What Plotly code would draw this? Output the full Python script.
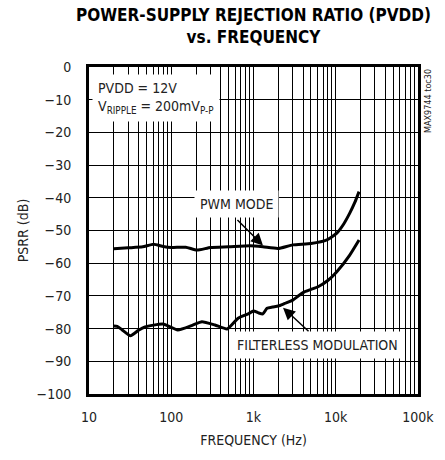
import plotly.graph_objects as go

# PWM MODE curve
pwm_f = [20, 30, 45, 61, 80, 100, 150, 205, 300, 500, 907, 1300, 1986, 3000, 5000, 7800, 10300, 12500, 14800, 17000, 19200]
pwm_db = [-55.6, -55.3, -55.0, -54.2, -54.9, -55.2, -55.1, -56.0, -55.2, -55.0, -54.7, -55.0, -55.5, -54.4, -54.0, -52.9, -50.8, -48.0, -44.7, -41.5, -38.1]

# FILTERLESS MODULATION curve
fl_f = [20, 22, 25, 32, 40, 48, 79, 120, 180, 236, 340, 478, 650, 860, 1000, 1150, 1300, 1460, 1700, 2000, 2400, 3000, 3600, 4200, 5000, 6100, 8000, 10300, 14800, 19200]
fl_db = [-79.2, -79.3, -80.3, -82.2, -80.5, -79.5, -78.6, -80.4, -79.0, -77.9, -78.9, -80.1, -76.8, -75.5, -74.6, -75.2, -75.5, -73.8, -73.4, -73.1, -72.3, -71.3, -69.8, -68.7, -68.0, -67.2, -65.3, -62.6, -57.5, -52.9]

x_major = [10, 100, 1000, 10000, 100000]
x_major_text = ["10", "100", "1k", "10k", "100k"]
y_ticks = [0, -10, -20, -30, -40, -50, -60, -70, -80, -90, -100]

FONT = "DejaVu Sans Condensed, Liberation Sans Narrow, Arial Narrow, Liberation Sans"

xvals, xtext = [], []
for d in x_major[:-1]:
    for m in range(1, 10):
        xvals.append(d * m)
        xtext.append(x_major_text[x_major.index(d)] if m == 1 else "")
xvals.append(100000)
xtext.append("100k")

fig = go.Figure()
fig.add_trace(go.Scatter(x=pwm_f, y=pwm_db, mode="lines", line=dict(color="black", width=3, shape="spline", smoothing=0.5), showlegend=False))
fig.add_trace(go.Scatter(x=fl_f, y=fl_db, mode="lines", line=dict(color="black", width=3, shape="spline", smoothing=0.5), showlegend=False))

fig.update_layout(
    width=445, height=460,
    margin=dict(l=89, r=27, t=67, b=66),
    paper_bgcolor="white", plot_bgcolor="white",
    font=dict(family=FONT, size=14, color="#222"),
)
fig.update_xaxes(
    type="log", range=[1, 5],
    tickvals=xvals, ticktext=xtext,
    showgrid=True, gridcolor="black", gridwidth=1,
    showline=True, linecolor="black", linewidth=3, mirror=True,
    ticks="", ticklabelstandoff=8,
    tickfont=dict(family=FONT, size=14, color="#222"),
    title=dict(text="FREQUENCY (Hz)", font=dict(family=FONT, size=14, color="#222"), standoff=12),
    zeroline=False,
)
fig.update_yaxes(
    range=[-100, 0], tickvals=y_ticks,
    showgrid=True, gridcolor="black", gridwidth=1,
    showline=True, linecolor="black", linewidth=3, mirror=True,
    ticks="inside", ticklen=5, tickcolor="black",
    ticklabelstandoff=12,
    tickfont=dict(family=FONT, size=14, color="#222"),
    title=dict(text="PSRR (dB)", font=dict(family=FONT, size=14, color="#222"), standoff=5),
    zeroline=False,
)

def px_to_paper(px, py):
    return (px - 89) / 329.0, (394 - py) / 327.0

# Title
fig.add_annotation(
    xref="paper", yref="paper", x=px_to_paper(253, 0)[0], y=1.0, yshift=64,
    xanchor="center", yanchor="top", showarrow=False,
    text="<b>POWER-SUPPLY REJECTION RATIO (PVDD)<br>vs. FREQUENCY</b>",
    font=dict(family=FONT, size=17, color="black"),
)

# Conditions box
bx, by = px_to_paper(92, 74)
fig.add_annotation(
    xref="paper", yref="paper", x=bx, y=by, xanchor="left", yanchor="top",
    text="PVDD = 12V<br>V<sub>RIPPLE</sub> = 200mV<sub>P-P</sub>",
    showarrow=False, align="left", bgcolor="white", borderpad=5,
    font=dict(family=FONT, size=14, color="#222"),
)

# PWM MODE label
lx, ly = px_to_paper(236, 204)
fig.add_annotation(
    xref="paper", yref="paper", x=lx, y=ly, xanchor="center", yanchor="middle",
    text="PWM MODE", showarrow=False, bgcolor="white", borderpad=5,
    font=dict(family=FONT, size=14, color="#222"),
)
fig.add_annotation(
    x=3.115, y=-54.6, xref="x", yref="y", text="", showarrow=True,
    ax=-27, ay=-27, arrowhead=2, arrowsize=1.6, arrowwidth=1.5, arrowcolor="black",
)

# FILTERLESS label
fx, fy = px_to_paper(317, 345)
fig.add_annotation(
    xref="paper", yref="paper", x=fx, y=fy, xanchor="center", yanchor="middle",
    text="FILTERLESS MODULATION", showarrow=False, bgcolor="white", borderpad=5,
    font=dict(family=FONT, size=14, color="#222"),
)
fig.add_annotation(
    x=3.359, y=-73.6, xref="x", yref="y", text="", showarrow=True,
    ax=27, ay=25, arrowhead=2, arrowsize=1.6, arrowwidth=1.5, arrowcolor="black",
)

# side code
fig.add_annotation(
    xref="paper", yref="paper", x=1.0, y=1.0, xanchor="left", yanchor="top", xshift=3,
    text="MAX9744 toc30", textangle=-90, showarrow=False,
    font=dict(family=FONT, size=9, color="#222"),
)

fig.write_html(
    "out.html",
    config={"displayModeBar": False},
    post_script="document.body.style.margin='0';document.body.style.overflow='hidden';",
)
